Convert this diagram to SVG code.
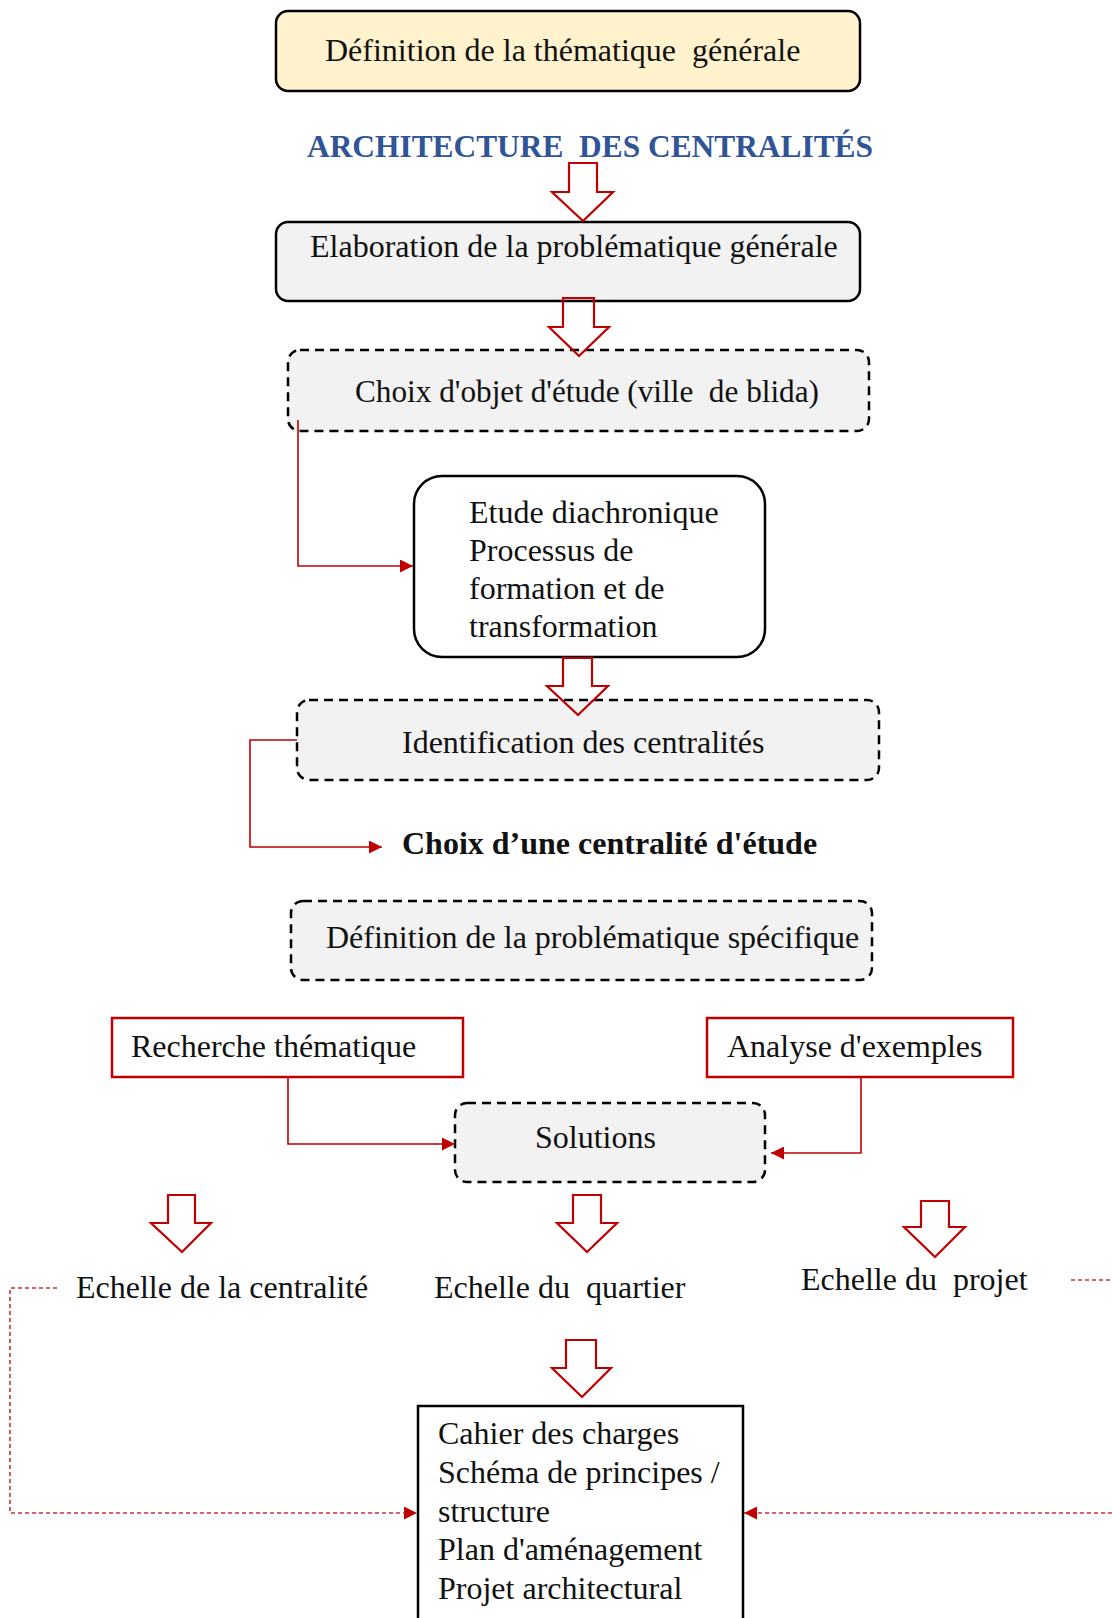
<svg xmlns="http://www.w3.org/2000/svg" width="1112" height="1618" viewBox="0 0 1112 1618">
<defs>
<style>
.t{font-family:"Liberation Serif","Times New Roman",serif;font-size:32px;fill:#111;white-space:pre;}
.b{font-weight:bold;}
.title{fill:#2F5597;}
.solid{stroke:#000;stroke-width:2.5;}
.dash{stroke:#000;stroke-width:2.5;stroke-dasharray:9 6;fill:#F2F2F2;}
.redbox{fill:#fff;stroke:#C00000;stroke-width:2.5;}
.barrow{fill:none;stroke:#C00000;stroke-width:2.2;stroke-linejoin:miter;}
.conn{fill:none;stroke:#C00000;stroke-width:1.6;}
.dconn{fill:none;stroke:#D03030;stroke-width:1.6;stroke-dasharray:4 3;}
</style>
<marker id="ah" viewBox="0 0 12 12" refX="12" refY="6" markerWidth="13" markerHeight="13" markerUnits="userSpaceOnUse" orient="auto">
<path d="M0,0 L12,6 L0,12 z" fill="#C00000"/>
</marker>
</defs>

<g id="n-def-thematique">
<rect x="276" y="11" width="584" height="80" rx="12" fill="#FFF2CC" class="solid"/>
<text class="t" x="325" y="61" xml:space="preserve">Définition de la thématique  générale</text>
</g>

<g id="n-title">
<text class="t b title" x="307" y="157" textLength="566" lengthAdjust="spacingAndGlyphs" xml:space="preserve">ARCHITECTURE  DES CENTRALITÉS</text>
</g>

<g id="n-elaboration">
<rect x="276" y="222" width="584" height="79" rx="12" fill="#F2F2F2" class="solid"/>
<text class="t" x="310" y="257">Elaboration de la problématique générale</text>
</g>

<g id="n-choix-objet">
<rect x="288" y="350" width="581" height="81" rx="12" class="dash"/>
<text class="t" x="355" y="402" textLength="464" lengthAdjust="spacingAndGlyphs" xml:space="preserve">Choix d'objet d'étude (ville  de blida)</text>
</g>

<g id="n-etude">
<rect x="414" y="476" width="351" height="181" rx="28" fill="#fff" class="solid"/>
<text class="t" x="469" y="523">Etude diachronique</text>
<text class="t" x="469" y="561">Processus de</text>
<text class="t" x="469" y="599">formation et de</text>
<text class="t" x="469" y="637">transformation</text>
</g>

<g id="n-identification">
<rect x="297" y="700" width="582" height="80" rx="12" class="dash"/>
<text class="t" x="402" y="753">Identification des centralités</text>
</g>

<g id="n-choix-centralite">
<text class="t b" x="402" y="854">Choix d’une centralité d'étude</text>
</g>

<g id="n-def-specifique">
<rect x="291" y="901" width="581" height="79" rx="12" class="dash"/>
<text class="t" x="326" y="948">Définition de la problématique spécifique</text>
</g>

<g id="n-recherche">
<rect x="112" y="1018" width="351" height="59" class="redbox"/>
<text class="t" x="131" y="1057">Recherche thématique</text>
</g>

<g id="n-analyse">
<rect x="707" y="1018" width="306" height="59" class="redbox"/>
<text class="t" x="727" y="1057">Analyse d'exemples</text>
</g>

<g id="n-solutions">
<rect x="455" y="1103" width="310" height="79" rx="12" class="dash"/>
<text class="t" x="535" y="1148">Solutions</text>
</g>

<g id="n-echelle-centralite">
<text class="t" x="76" y="1298">Echelle de la centralité</text>
</g>
<g id="n-echelle-quartier">
<text class="t" x="434" y="1298" xml:space="preserve">Echelle du  quartier</text>
</g>
<g id="n-echelle-projet">
<text class="t" x="801" y="1290" xml:space="preserve">Echelle du  projet</text>
</g>

<g id="n-cahier">
<rect x="418" y="1406" width="325" height="260" fill="#fff" class="solid"/>
<text class="t" x="438" y="1444">Cahier des charges</text>
<text class="t" x="438" y="1483">Schéma de principes /</text>
<text class="t" x="438" y="1522">structure</text>
<text class="t" x="438" y="1560">Plan d'aménagement</text>
<text class="t" x="438" y="1599">Projet architectural</text>
</g>

<g id="connectors">
<polygon class="barrow" points="569,163 597,163 597,192 613,192 583,221 552,192 569,192"/>
<polygon class="barrow" points="563,298 594,298 594,327 609,327 579,356 549,327 563,327"/>
<polygon class="barrow" points="563,658 592,658 592,686 608,686 578,715 547,686 563,686"/>
<polygon class="barrow" points="168,1195 195,1195 195,1223 211,1223 182,1252 151,1223 168,1223"/>
<polygon class="barrow" points="573,1195 601,1195 601,1223 617,1223 587,1252 557,1223 573,1223"/>
<polygon class="barrow" points="921,1201 949,1201 949,1227 965,1227 935,1257 904,1227 921,1227"/>
<polygon class="barrow" points="566,1340 596,1340 596,1368 611,1368 582,1397 552,1368 566,1368"/>

<path class="conn" d="M298,420 V566 H413" marker-end="url(#ah)"/>
<path class="conn" d="M297,740 H250 V847 H382" marker-end="url(#ah)"/>
<path class="conn" d="M288,1077 V1144 H455" marker-end="url(#ah)"/>
<path class="conn" d="M861,1077 V1153 H771" marker-end="url(#ah)"/>

<path class="dconn" d="M57,1288 H10 V1513 H417" marker-end="url(#ah)"/>
<path class="dconn" d="M1071,1280 H1112"/>
<path class="dconn" d="M1112,1513 H744" marker-end="url(#ah)"/>
</g>
</svg>
